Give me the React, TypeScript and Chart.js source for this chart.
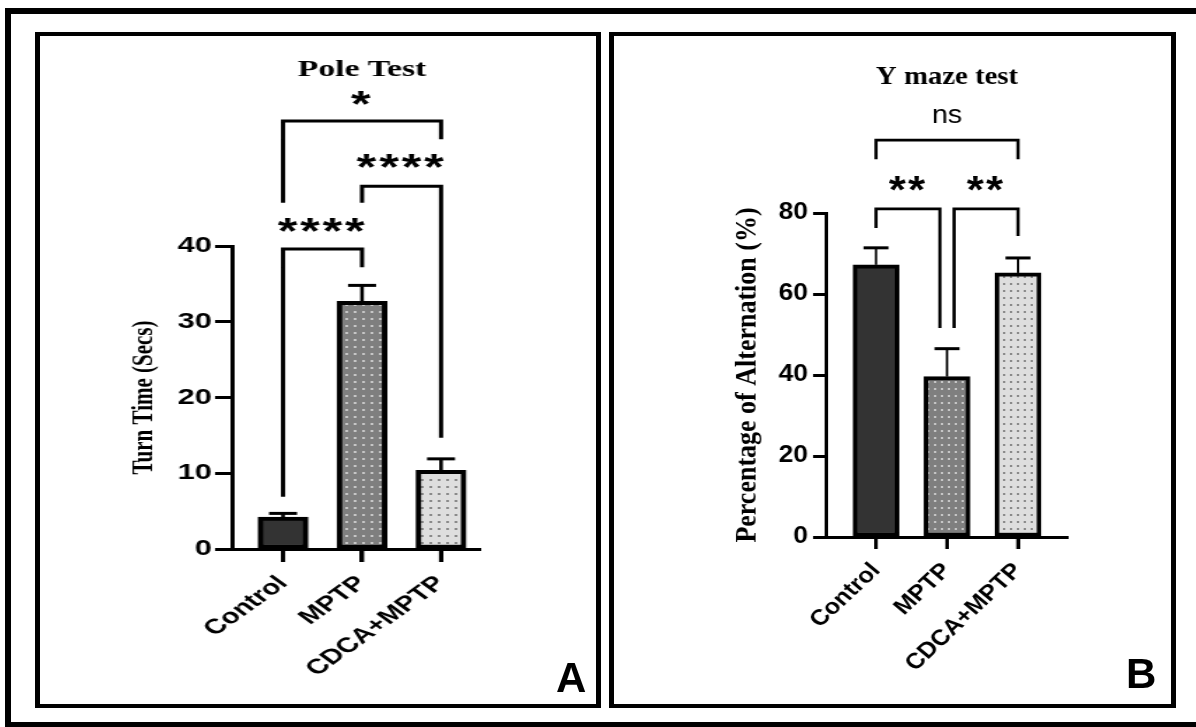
import React, { useEffect, useRef } from 'react';
import { Chart, registerables } from 'chart.js';

Chart.register(...registerables);

// ---------- data ----------
const categories = ['Control', 'MPTP', 'CDCA+MPTP'];

const poleMeans = [4.2, 32.7, 10.4];
const poleErrors = [0.5, 2.1, 1.5];
const poleTicks = [0, 10, 20, 30, 40];

const mazeMeans = [67.2, 39.6, 65.2];
const mazeErrors = [4.2, 6.9, 3.7];
const mazeTicks = [0, 20, 40, 60, 80];

type Bracket = { from: number; to: number; y: number; leftEnd: number; rightEnd: number; label: string; labelY: number };

const poleBrackets: Bracket[] = [
  { from: 0, to: 1, y: 39.6, leftEnd: 6.9, rightEnd: 37.2, label: '****', labelY: 42.8 },
  { from: 1, to: 2, y: 47.9, leftEnd: 45.7, rightEnd: 14.7, label: '****', labelY: 51.2 },
  { from: 0, to: 2, y: 56.5, leftEnd: 45.7, rightEnd: 54.1, label: '*', labelY: 59.5 },
];

const mazeBrackets: Bracket[] = [
  { from: 0, to: 2, y: 98.0, leftEnd: 93.3, rightEnd: 93.3, label: 'ns', labelY: 104 },
  { from: 0, to: 0.9, y: 81.0, leftEnd: 76.3, rightEnd: 51.6, label: '**', labelY: 87.2 },
  { from: 1.1, to: 2, y: 81.0, leftEnd: 51.6, rightEnd: 74.3, label: '**', labelY: 87.2 },
];

// ---------- styling helpers ----------
const SANS = "'Liberation Sans', Arial, sans-serif";
const SERIF = "'Liberation Serif', 'Times New Roman', serif";

function makePattern(base: string, dot: string, w: number, h: number): CanvasPattern | string {
  const c = document.createElement('canvas');
  c.width = w;
  c.height = h;
  const g = c.getContext('2d');
  if (!g) return base;
  g.fillStyle = base;
  g.fillRect(0, 0, w, h);
  g.fillStyle = dot;
  g.fillRect(2, 2, 2, 2);
  return g.createPattern(c, 'repeat') || base;
}

interface PanelSpec {
  box: { left: number; top: number; w: number; h: number };
  stretch: number;
  area: { left: number; right: number; top: number; bottom: number };
  xRange: [number, number];
  yMax: number;
  ticks: number[];
  means: number[];
  errors: number[];
  brackets: Bracket[];
  barWidth: number;
  capWidth: number;
  errWidth: number;
  bracketWidth: number;
  title: string;
  titleSize: number;
  titleY: number;
  yTitle: string;
  yTitleSize: number;
  yTitleX: number;
  tickSize: number;
  xLabelSize: number;
  xLabelRotation: number;
  xLabelPad: number;
  yTickLen: number;
  xTickLen: number;
  yTickPad: number;
  axisWidth: number;
  starSize: number;
}

const poleSpec: PanelSpec = {
  box: { left: 40, top: 36, w: 556, h: 668 },
  stretch: 1.4,
  area: { left: 232, right: 481, top: 246, bottom: 549 },
  xRange: [-0.646, 2.506],
  yMax: 40,
  ticks: poleTicks,
  means: poleMeans,
  errors: poleErrors,
  brackets: poleBrackets,
  barWidth: 50,
  capWidth: 28,
  errWidth: 2.6,
  bracketWidth: 3,
  title: 'Pole Test',
  titleSize: 24,
  titleY: 68,
  yTitle: 'Turn Time (Secs)',
  yTitleSize: 21,
  yTitleX: 145,
  tickSize: 22,
  xLabelSize: 21,
  xLabelRotation: 45,
  xLabelPad: 9,
  yTickLen: 17,
  xTickLen: 13,
  yTickPad: 3,
  axisWidth: 3,
  starSize: 36,
};

const mazeSpec: PanelSpec = {
  box: { left: 614, top: 36, w: 557, h: 668 },
  stretch: 1.15,
  area: { left: 826, right: 1068, top: 213, bottom: 537 },
  xRange: [-0.704, 2.704],
  yMax: 80,
  ticks: mazeTicks,
  means: mazeMeans,
  errors: mazeErrors,
  brackets: mazeBrackets,
  barWidth: 46,
  capWidth: 25,
  errWidth: 2,
  bracketWidth: 2.8,
  title: 'Y maze test',
  titleSize: 25,
  titleY: 75,
  yTitle: 'Percentage of Alternation (%)',
  yTitleSize: 26,
  yTitleX: 748,
  tickSize: 23,
  xLabelSize: 22,
  xLabelRotation: 47,
  xLabelPad: 9,
  yTickLen: 13,
  xTickLen: 12,
  yTickPad: 5,
  axisWidth: 3,
  starSize: 38,
};

function centeredText(ctx: CanvasRenderingContext2D, text: string, x: number, y: number) {
  ctx.textAlign = 'center';
  ctx.textBaseline = 'alphabetic';
  const m = ctx.measureText(text);
  const base = y + (m.actualBoundingBoxAscent - m.actualBoundingBoxDescent) / 2;
  ctx.fillText(text, x, base);
}

function Panel({ spec }: { spec: PanelSpec }) {
  const ref = useRef<HTMLCanvasElement>(null);
  const iw = Math.round(spec.box.w / spec.stretch);

  useEffect(() => {
    const canvas = ref.current;
    if (!canvas) return;
    const sx = spec.box.w / iw;
    const toX = (px: number) => (px - spec.box.left) / sx;
    const toY = (py: number) => py - spec.box.top;
    const areaLeft = toX(spec.area.left);
    const areaRight = toX(spec.area.right);
    const areaTop = toY(spec.area.top);
    const areaBottom = toY(spec.area.bottom);

    const fills = [
      '#333333',
      makePattern('#7f7f7f', '#c6c6c6', 6, 7),
      makePattern('#dedede', '#8a8a8a', 6, 7),
    ];

    const yTitleLine = spec.yTitleSize * 1.2;

    const overlay = {
      id: 'overlay',
      afterDraw(chart: any) {
        const ctx: CanvasRenderingContext2D = chart.ctx;
        const xs = chart.scales.x;
        const ys = chart.scales.y;
        ctx.save();
        ctx.strokeStyle = '#000';
        ctx.lineCap = 'butt';
        // category tick marks under the x axis
        ctx.lineWidth = 3;
        categories.forEach((_, i) => {
          const cx = xs.getPixelForValue(i);
          ctx.beginPath();
          ctx.moveTo(cx, xs.top);
          ctx.lineTo(cx, xs.top + spec.xTickLen);
          ctx.stroke();
        });
        // error bars (upward)
        spec.means.forEach((m, i) => {
          const cx = xs.getPixelForValue(i);
          const y0 = ys.getPixelForValue(m);
          const y1 = ys.getPixelForValue(m + spec.errors[i]);
          const cap = spec.capWidth / sx / 2;
          ctx.lineWidth = spec.errWidth;
          ctx.beginPath();
          ctx.moveTo(cx, y0);
          ctx.lineTo(cx, y1);
          ctx.stroke();
          ctx.lineWidth = 3;
          ctx.beginPath();
          ctx.moveTo(cx - cap, y1);
          ctx.lineTo(cx + cap, y1);
          ctx.stroke();
        });
        // significance brackets
        ctx.lineWidth = spec.bracketWidth;
        ctx.lineJoin = 'miter';
        ctx.fillStyle = '#000';
        spec.brackets.forEach((b) => {
          const xl = xs.getPixelForValue(b.from);
          const xr = xs.getPixelForValue(b.to);
          const yh = ys.getPixelForValue(b.y);
          ctx.beginPath();
          ctx.moveTo(xl, ys.getPixelForValue(b.leftEnd));
          ctx.lineTo(xl, yh);
          ctx.lineTo(xr, yh);
          ctx.lineTo(xr, ys.getPixelForValue(b.rightEnd));
          ctx.stroke();
          const lx = xs.getPixelForValue((b.from + b.to) / 2);
          const ly = ys.getPixelForValue(b.labelY);
          if (b.label === 'ns') {
            ctx.font = `25px ${SANS}`;
            (ctx as any).letterSpacing = '0px';
          } else {
            ctx.font = `bold ${spec.starSize}px ${SANS}`;
            (ctx as any).letterSpacing = '2px';
          }
          centeredText(ctx, b.label, lx, ly);
        });
        (ctx as any).letterSpacing = '0px';
        // title
        ctx.font = `bold ${spec.titleSize}px ${SERIF}`;
        centeredText(ctx, spec.title, xs.getPixelForValue(1), toY(spec.titleY));
        ctx.restore();
      },
    };

    const chart = new Chart(canvas, {
      type: 'bar',
      data: {
        datasets: [
          {
            data: categories.map((_, i) => ({ x: i, y: spec.means[i] })),
            backgroundColor: fills as any,
            borderColor: '#000',
            borderWidth: 4,
            borderSkipped: false,
            barThickness: spec.barWidth / sx,
          } as any,
        ],
      },
      options: {
        animation: false,
        responsive: false,
        maintainAspectRatio: false,
        events: [],
        layout: {
          padding: { left: 0, top: areaTop, right: iw - areaRight, bottom: 0 },
        },
        plugins: {
          legend: { display: false },
          tooltip: { enabled: false },
          title: { display: false },
        },
        scales: {
          x: {
            type: 'linear',
            offset: false,
            min: spec.xRange[0],
            max: spec.xRange[1],
            afterBuildTicks: (s: any) => {
              s.ticks = categories.map((_, i) => ({ value: i }));
            },
            afterFit: (s: any) => {
              s.height = spec.box.h - areaBottom;
            },
            ticks: {
              autoSkip: false,
              minRotation: spec.xLabelRotation,
              maxRotation: spec.xLabelRotation,
              padding: spec.xLabelPad,
              color: '#000',
              font: { family: SANS, weight: 'bold', size: spec.xLabelSize },
              callback: (v: any) => categories[Number(v)] ?? '',
            },
            grid: {
              display: true,
              offset: false,
              drawOnChartArea: false,
              drawTicks: true,
              tickLength: spec.xTickLen,
              tickWidth: 3,
              tickColor: '#000',
              color: '#000',
            },
            border: { display: true, color: '#000', width: spec.axisWidth },
          },
          y: {
            type: 'linear',
            min: 0,
            max: spec.yMax,
            afterBuildTicks: (s: any) => {
              s.ticks = spec.ticks.map((v) => ({ value: v }));
            },
            afterFit: (s: any) => {
              s.width = areaLeft;
            },
            ticks: {
              padding: spec.yTickPad / sx,
              color: '#000',
              font: { family: SANS, weight: 'bold', size: spec.tickSize },
            },
            grid: {
              display: true,
              drawOnChartArea: false,
              drawTicks: true,
              tickLength: spec.yTickLen / sx,
              tickWidth: 3,
              tickColor: '#000',
              color: '#000',
            },
            border: { display: true, color: '#000', width: spec.axisWidth },
            title: {
              display: true,
              text: spec.yTitle,
              color: '#000',
              font: { family: SERIF, weight: 'bold', size: spec.yTitleSize, lineHeight: 1.2 },
              padding: { top: toX(spec.yTitleX) - yTitleLine / 2, bottom: 0 },
            },
          },
        },
      } as any,
      plugins: [overlay],
    });
    return () => chart.destroy();
  }, []);

  return (
    <canvas
      ref={ref}
      width={iw}
      height={spec.box.h}
      style={{
        position: 'absolute',
        left: spec.box.left,
        top: spec.box.top,
        width: spec.box.w,
        height: spec.box.h,
      }}
    />
  );
}

const letterStyle: React.CSSProperties = {
  position: 'absolute',
  fontFamily: SANS,
  fontWeight: 'bold',
  fontSize: 42,
  lineHeight: '42px',
  color: '#000',
};

export default function App() {
  return (
    <div
      style={{
        position: 'absolute',
        left: 0,
        top: 0,
        width: 1196,
        height: 727,
        overflow: 'hidden',
        background: '#fff',
      }}
    >
      <div
        style={{
          position: 'absolute',
          left: 5,
          top: 8,
          width: 1200,
          height: 719,
          border: '6px solid #000',
          borderBottomWidth: 5,
          boxSizing: 'border-box',
        }}
      />
      <div
        style={{
          position: 'absolute',
          left: 35,
          top: 32,
          width: 566,
          height: 676,
          borderStyle: 'solid',
          borderColor: '#000',
          borderWidth: '4px 5px',
          boxSizing: 'border-box',
        }}
      />
      <div
        style={{
          position: 'absolute',
          left: 609,
          top: 32,
          width: 567,
          height: 676,
          borderStyle: 'solid',
          borderColor: '#000',
          borderWidth: '4px 5px',
          boxSizing: 'border-box',
        }}
      />
      <Panel spec={poleSpec} />
      <Panel spec={mazeSpec} />
      <div style={{ ...letterStyle, left: 556, top: 657 }}>A</div>
      <div style={{ ...letterStyle, left: 1126, top: 653 }}>B</div>
    </div>
  );
}
